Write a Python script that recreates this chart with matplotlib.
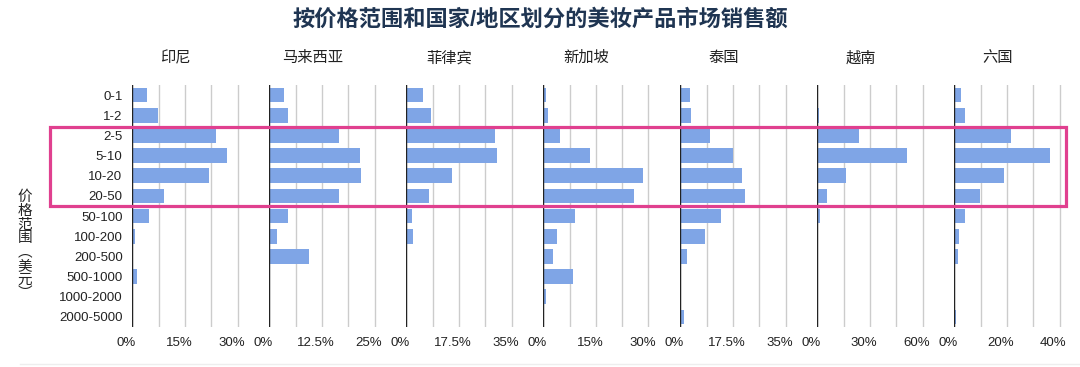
import matplotlib
matplotlib.use('Agg')
import matplotlib.pyplot as plt
from matplotlib.patches import Rectangle
from matplotlib.lines import Line2D
from matplotlib.ticker import FixedLocator, FuncFormatter
from matplotlib.transforms import ScaledTranslation

plt.rcParams['font.family'] = ['Liberation Sans', 'Noto Sans CJK SC']

# Data (share of sales, %)
price_ranges = ['0-1', '1-2', '2-5', '5-10', '10-20', '20-50', '50-100',
                '100-200', '200-500', '500-1000', '1000-2000', '2000-5000']
countries = ['印尼', '马来西亚', '菲律宾', '新加坡', '泰国', '越南', '六国']

indonesia = [4.1, 7.3, 23.8, 27.1, 22.0, 8.9, 4.9, 0.8, 0.3, 1.2, 0.0, 0.0]
malaysia = [3.6, 4.4, 16.6, 21.6, 21.8, 16.6, 4.4, 1.8, 9.5, 0.2, 0.0, 0.0]
philippines = [5.4, 8.1, 29.4, 30.1, 15.1, 7.6, 2.0, 2.3, 0.1, 0.0, 0.3, 0.0]
singapore = [0.9, 1.4, 4.9, 13.3, 28.3, 26.0, 9.1, 3.9, 2.9, 8.6, 0.7, 0.0]
thailand = [3.1, 3.4, 10.0, 17.4, 20.5, 21.4, 13.6, 8.1, 2.2, 0.0, 0.0, 1.3]
vietnam = [0.2, 1.1, 23.7, 51.1, 16.1, 5.7, 1.5, 0.2, 0.4, 0.0, 0.0, 0.0]
six_countries = [2.5, 3.9, 21.6, 36.4, 18.9, 9.6, 4.2, 1.9, 1.5, 0.2, 0.0, 0.6]

series = [indonesia, malaysia, philippines, singapore, thailand, vietnam, six_countries]
grid_steps = [7.5, 6.25, 8.75, 7.5, 8.75, 15, 10]

W, H = 1080, 367
fig = plt.figure(figsize=(W / 100, H / 100), dpi=100)

bar_color = '#7fa5e6'
text_color = '#222222'

# panel geometry in pixels
left0, pitch, panel_w = 132.3, 137.0, 131.5
top, bottom = 85, 327

for i, (name, vals, step) in enumerate(zip(countries, series, grid_steps)):
    x0 = left0 + i * pitch
    ax = fig.add_axes([x0 / W, 1 - bottom / H, panel_w / W, (bottom - top) / H])
    ax.barh(range(len(price_ranges)), vals, height=0.72, color=bar_color, zorder=3)
    ax.set_ylim(len(price_ranges) - 0.5, -0.5)
    ax.set_xlim(0, 5 * step)

    ax.xaxis.set_major_locator(FixedLocator([0, 2 * step, 4 * step]))
    ax.xaxis.set_minor_locator(FixedLocator([step, 3 * step]))
    ax.xaxis.set_major_formatter(FuncFormatter(lambda v, p: '{:g}%'.format(v)))
    ax.grid(axis='x', which='both', color='#cccccc', lw=1, zorder=0)
    ax.axvline(0, color='#222222', lw=1, zorder=4)
    for s in ax.spines.values():
        s.set_visible(False)
    ax.tick_params(axis='both', which='both', length=0, labelsize=9.5,
                   colors=text_color)
    ax.tick_params(axis='x', pad=7)
    for lab in ax.get_xticklabels():
        lab.set_transform(lab.get_transform() + ScaledTranslation(-0.06, 0, fig.dpi_scale_trans))

    if i == 0:
        ax.set_yticks(range(len(price_ranges)), price_ranges)
        ax.tick_params(axis='y', pad=7)
    else:
        ax.set_yticks([])

    ax.text(0.33, (58 - top) / (top - bottom) + 1.0, name, transform=ax.transAxes,
            ha='center', va='center', fontsize=11, color=text_color)

# title
fig.text(540 / W, 1 - 20 / H, '按价格范围和国家/地区划分的美妆产品市场销售额',
         ha='center', va='center', fontsize=16, fontweight='bold', color='#1f3552')

# vertical y label
fig.text(25 / W, 1 - 245 / H, '价\n格\n范\n围\n︵\n美\n元\n︶',
         ha='center', va='center', fontsize=10.5, linespacing=0.98, color=text_color)

# highlight box around the 2-50 rows
fig.add_artist(Rectangle((50 / W, 1 - 206 / H), 1016 / W, 79 / H,
                         transform=fig.transFigure, fill=False,
                         edgecolor='#e0408f', lw=2.3, zorder=10))

# faint separator at the bottom
fig.add_artist(Line2D([20 / W, 1.0], [1 - 364 / H, 1 - 364 / H],
                      transform=fig.transFigure, color='#eeeeee', lw=1))

fig.savefig('out.png', dpi=100)
